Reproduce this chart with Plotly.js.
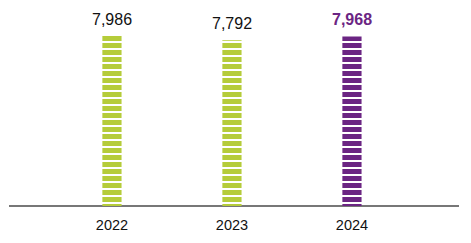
<!DOCTYPE html>
<html>
<head>
<meta charset="utf-8">
<script src="https://cdn.plot.ly/plotly-3.0.1.min.js"></script>
<style>
  html, body { margin: 0; padding: 0; background: #ffffff; }
  #chart { width: 471px; height: 243px; }
</style>
</head>
<body>
<div id="chart"></div>
<script>
// Annual totals
const years = ['2022', '2023', '2024'];
const totals = [7986, 7792, 7968];
const barColors = ['#b5cc3a', '#b5cc3a', '#6b2583'];
const labelColors = ['#111111', '#111111', '#6b2583'];
const labelWeights = ['normal', 'normal', 'bold'];

const bars = {
  type: 'bar',
  x: years,
  y: totals,
  width: 0.16,
  marker: {
    color: barColors,
    line: { width: 0 },
    pattern: {
      shape: '-',
      fgcolor: barColors,
      bgcolor: '#ffffff',
      size: 7,
      solidity: 0.72
    }
  },
  hoverinfo: 'skip'
};

const labels = years.map((yr, i) => ({
  x: i,
  y: totals[i],
  xref: 'x',
  yref: 'y',
  text: totals[i].toLocaleString('en-US'),
  showarrow: false,
  yanchor: 'bottom',
  yshift: 6,
  font: {
    family: 'Liberation Sans, Arial, sans-serif',
    size: 16,
    color: labelColors[i],
    weight: labelWeights[i]
  }
}));

const layout = {
  width: 471,
  height: 243,
  margin: { l: 9, r: 12, t: 0, b: 37 },
  paper_bgcolor: '#ffffff',
  plot_bgcolor: '#ffffff',
  showlegend: false,
  xaxis: {
    type: 'category',
    range: [-0.858, 2.892],
    showgrid: false,
    zeroline: false,
    showline: false,
    ticks: '',
    ticklabelstandoff: 8,
    tickfont: { family: 'Liberation Sans, Arial, sans-serif', size: 14.5, color: '#111111' }
  },
  yaxis: {
    range: [0, 9677],
    showgrid: false,
    zeroline: true,
    zerolinecolor: '#777777',
    zerolinewidth: 2,
    showticklabels: false,
    ticks: ''
  },
  annotations: labels
};

Plotly.newPlot('chart', [bars], layout, { displayModeBar: false, staticPlot: true });
</script>
</body>
</html>
